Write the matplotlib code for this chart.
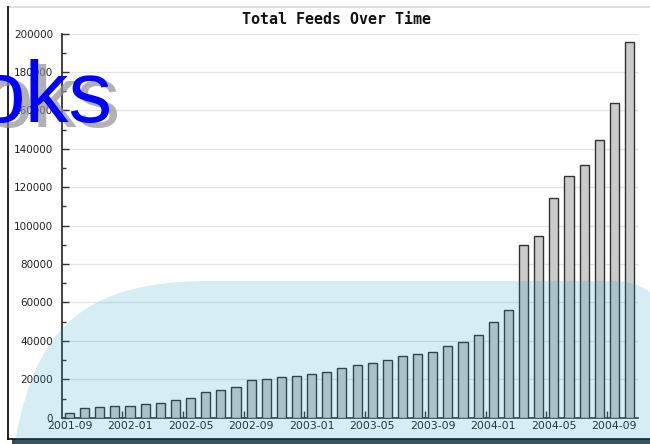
import matplotlib
matplotlib.use("Agg")
import matplotlib.pyplot as plt
from matplotlib.path import Path
from matplotlib.patches import PathPatch, Rectangle
from matplotlib.lines import Line2D
import numpy as np

# ---- data ----
months = ["2001-09", "2001-10", "2001-11", "2001-12",
          "2002-01", "2002-02", "2002-03", "2002-04", "2002-05", "2002-06",
          "2002-07", "2002-08", "2002-09", "2002-10", "2002-11", "2002-12",
          "2003-01", "2003-02", "2003-03", "2003-04", "2003-05", "2003-06",
          "2003-07", "2003-08", "2003-09", "2003-10", "2003-11", "2003-12",
          "2004-01", "2004-02", "2004-03", "2004-04", "2004-05", "2004-06",
          "2004-07", "2004-08", "2004-09", "2004-10"]
feeds = [2300, 5200, 5700, 6250, 6250, 7000, 7500, 9050, 10400, 13200,
         14250, 16000, 19500, 20150, 21000, 21700, 22750, 23950, 25700, 27300,
         28650, 30200, 32000, 33000, 34400, 37200, 39400, 42900, 49700, 55900,
         90100, 94800, 114600, 125700, 131400, 144450, 163900, 195500]
yticks = [0, 20000, 40000, 60000, 80000, 100000, 120000, 140000, 160000, 180000, 200000]
title = "Total Feeds Over Time"
watermark = "oks"

W, H = 650, 444
fig = plt.figure(figsize=(W / 100, H / 100), dpi=100)
fig.patch.set_facecolor("white")

def fx(x):
    return x / W

def fy(y):
    return 1 - y / H

# axes placement (pixel geometry)
ax_l, ax_r, ax_t, ax_b = 62.3, 637.7, 33.7, 417.7
ax = fig.add_axes([fx(ax_l), fy(ax_b), (ax_r - ax_l) / W, (ax_b - ax_t) / H])
ax.set_facecolor("none")

x = np.arange(len(months))
ax.bar(x, feeds, width=0.6, color="#cbcbcb", edgecolor="#333333", linewidth=1.0, zorder=3)

ax.set_xlim(-0.475, len(months) - 1 + 0.54)
ax.set_ylim(0, 200000)

for s in ["top", "right"]:
    ax.spines[s].set_visible(False)
ax.spines["left"].set_color("#222222")
ax.spines["bottom"].set_color("#333333")
ax.spines["left"].set_linewidth(1.2)
ax.spines["bottom"].set_linewidth(1.2)

ax.set_yticks(yticks)
ax.set_yticklabels([str(v) for v in yticks])
ax.set_yticks(np.arange(10000, 200000, 20000), minor=True)
ax.tick_params(axis="y", which="major", direction="in", length=5, width=1,
               color="#333333", labelsize=7.5, labelcolor="#222222", pad=6.5)
ax.tick_params(axis="y", which="minor", direction="in", length=3, width=1, color="#333333")
ax.yaxis.grid(True, color="#e4e4e4", linewidth=0.9, zorder=0)
ax.set_axisbelow(True)

ax.set_xticks(x[::4])
ax.set_xticklabels(months[::4])
ax.set_xticks(x[::4][1:] - 0.5, minor=True)
ax.tick_params(axis="x", which="major", length=0, labelsize=7.8, labelcolor="#222222", pad=2.5)
ax.tick_params(axis="x", which="minor", direction="in", length=5, width=1, color="#333333")

# title
fig.text(fx(336), fy(19.5), title, ha="center", va="center",
         family="DejaVu Sans Mono", fontweight="bold", fontsize=10.8, color="#111111")

# frame decoration
fig.add_artist(Line2D([fx(7.5), fx(W)], [fy(7), fy(7)], color="#d8d8d8", lw=1.2,
                      transform=fig.transFigure))
fig.add_artist(Rectangle((fx(12), 0), fx(W) - fx(12), fy(439) - 0, transform=fig.transFigure,
                         facecolor="#37484e", edgecolor="none", zorder=1))
fig.add_artist(Line2D([fx(7.5), fx(W)], [fy(438.5), fy(438.5)], color="#111111", lw=1.2,
                      transform=fig.transFigure, zorder=2))
fig.add_artist(Line2D([fx(7.5), fx(7.5)], [fy(7), fy(439)], color="#111111", lw=1.3,
                      transform=fig.transFigure, zorder=2))

# translucent overlay shape
verts = [(12, 460), (30, 340), (70, 281), (210, 281),
         (612, 281),
         (640, 281), (655, 292), (665, 312),
         (665, 460), (12, 460)]
codes = [Path.MOVETO, Path.CURVE4, Path.CURVE4, Path.CURVE4,
         Path.LINETO,
         Path.CURVE4, Path.CURVE4, Path.CURVE4,
         Path.LINETO, Path.CLOSEPOLY]
path = Path([(fx(a), fy(b)) for a, b in verts], codes)
fig.add_artist(PathPatch(path, transform=fig.transFigure, facecolor="#1e9ec4",
                         edgecolor="none", alpha=0.18, zorder=5))

# watermark text with shadow
fig.text(fx(120), fy(127), watermark, ha="right", va="baseline", family="Liberation Sans",
         fontsize=63, color="#909090", alpha=0.7, zorder=6)
fig.text(fx(113), fy(122), watermark, ha="right", va="baseline", family="Liberation Sans",
         fontsize=63, color="#0000ff", zorder=7)

fig.savefig("out.png", dpi=100)
